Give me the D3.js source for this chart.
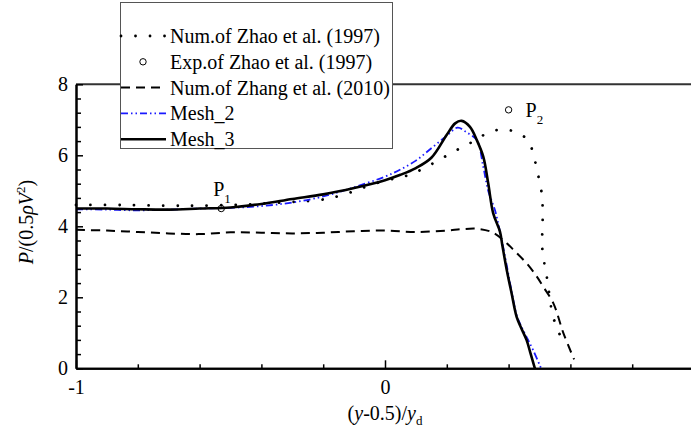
<!DOCTYPE html>
<html>
<head>
<meta charset="utf-8">
<script src="https://cdn.jsdelivr.net/npm/d3@7"></script>
<style>
  body { margin: 0; background: #fff; }
  svg text { font-family: "Liberation Serif", "Times New Roman", serif; fill: #000; }
</style>
</head>
<body>
<svg id="mysvg" width="691" height="438"></svg>
<script>
// Num. of Zhao et al. (1997) - dotted
const zhaoNumX = [-1, -0.85, -0.7, -0.6, -0.5, -0.43, -0.38, -0.29, -0.24, -0.19, -0.15, -0.1, -0.06, -0.01, 0.04, 0.08, 0.12, 0.165, 0.21, 0.25, 0.29, 0.33, 0.378, 0.424, 0.462, 0.48, 0.491, 0.502, 0.509, 0.51, 0.51, 0.508, 0.512, 0.521, 0.528, 0.542, 0.557, 0.578];
const zhaoNumY = [4.6, 4.6, 4.58, 4.58, 4.6, 4.62, 4.65, 4.69, 4.72, 4.77, 4.85, 4.99, 5.12, 5.26, 5.36, 5.45, 5.61, 5.82, 6.04, 6.23, 6.41, 6.62, 6.73, 6.65, 6.43, 6.04, 5.61, 5.19, 4.79, 4.38, 3.97, 3.55, 3.14, 2.72, 2.32, 1.52, 1.13, 0.7];

// Exp. of Zhao et al. (1997) - circles P1, P2
const expX = [-0.53, 0.4];
const expY = [4.5, 7.28];
const expLabels = ["1", "2"];

// Num. of Zhang et al. (2010) - dashed
const zhangX = [-1, -0.9, -0.8, -0.7, -0.6, -0.5, -0.4, -0.3, -0.2, -0.1, 0, 0.1, 0.2, 0.25, 0.3, 0.35, 0.394, 0.42, 0.458, 0.49, 0.512, 0.545, 0.577, 0.612];
const zhangY = [3.9, 3.88, 3.84, 3.8, 3.78, 3.83, 3.82, 3.8, 3.82, 3.86, 3.88, 3.84, 3.88, 3.92, 3.93, 3.82, 3.52, 3.3, 2.96, 2.6, 2.3, 1.83, 1.0, 0.25];

// Mesh_2 - blue dash dot
const mesh2X = [-1, -0.9, -0.8, -0.7, -0.6, -0.5, -0.4, -0.3, -0.2, -0.1, 0, 0.05, 0.1, 0.15, 0.2, 0.235, 0.265, 0.297, 0.318, 0.334, 0.356, 0.372, 0.395, 0.41, 0.426, 0.44, 0.46, 0.48, 0.505];
const mesh2Y = [4.48, 4.47, 4.45, 4.47, 4.5, 4.52, 4.57, 4.67, 4.84, 5.1, 5.4, 5.6, 5.85, 6.2, 6.55, 6.78, 6.64, 6.43, 5.68, 5.0, 4.45, 3.85, 2.85, 2.15, 1.5, 1.2, 0.85, 0.5, 0.0];

// Mesh_3 - solid
const mesh3X = [-1, -0.9, -0.8, -0.7, -0.6, -0.5, -0.4, -0.3, -0.2, -0.1, 0, 0.05, 0.1, 0.15, 0.2, 0.227, 0.248, 0.275, 0.297, 0.318, 0.334, 0.35, 0.372, 0.38, 0.394, 0.41, 0.426, 0.44, 0.458, 0.47, 0.485];
const mesh3Y = [4.5, 4.5, 4.48, 4.47, 4.5, 4.53, 4.63, 4.77, 4.9, 5.08, 5.3, 5.45, 5.64, 5.93, 6.58, 6.9, 6.97, 6.8, 6.43, 5.96, 5.21, 4.37, 3.85, 3.45, 2.77, 2.1, 1.45, 1.15, 0.8, 0.45, 0.0];

// tick values (the x = 1 end lies just past the right edge of the picture)
const xMajor = [-1, 0, 1];
const xMajorLabels = ["-1", "0", ""];
const xMinor = [-0.8, -0.6, -0.4, -0.2, 0.2, 0.4, 0.6, 0.8];
const yMajor = [0, 2, 4, 6, 8];
const yMinor = [0.4, 0.8, 1.2, 1.6, 2.4, 2.8, 3.2, 3.6, 4.4, 4.8, 5.2, 5.6, 6.4, 6.8, 7.2, 7.6];

const legendLabels = ["Num.of Zhao et al. (1997)", "Exp.of Zhao et al. (1997)", "Num.of Zhang et al. (2010)", "Mesh_2", "Mesh_3"];

const zip = (xs, ys) => xs.map((x, i) => ({ x: x, y: ys[i] }));

const svg = d3.select("#mysvg");

const plotLeft = 76, plotRight = 694, plotTop = 84.3, plotBottom = 368.3;

const xScale = d3.scaleLinear().domain([-1, 1]).range([plotLeft, plotRight]);
const yScale = d3.scaleLinear().domain([0, 8]).range([plotBottom, plotTop]);

const line = d3.line()
  .curve(d3.curveCatmullRom.alpha(0.5))
  .x((d) => xScale(d.x))
  .y((d) => yScale(d.y));

// series styles
const series = [
  { data: zip(zhaoNumX, zhaoNumY), stroke: "#000", width: 2.8, dash: "0.01 14.5", cap: "round" },
  { data: zip(zhangX, zhangY), stroke: "#000", width: 2, dash: "9 6", cap: "butt" },
  { data: zip(mesh2X, mesh2Y), stroke: "#1a1aff", width: 1.8, dash: "7 3 1.5 3 1.5 3", cap: "butt" },
  { data: zip(mesh3X, mesh3Y), stroke: "#000", width: 2.6, dash: null, cap: "butt" },
];

// top frame line
svg.append("line")
  .attr("x1", plotLeft).attr("x2", 691)
  .attr("y1", plotTop).attr("y2", plotTop)
  .attr("stroke", "#333").attr("stroke-width", 2);

svg.selectAll(".series")
  .data(series)
  .join("path")
  .attr("class", "series")
  .attr("d", (d) => line(d.data))
  .attr("fill", "none")
  .attr("stroke", (d) => d.stroke)
  .attr("stroke-width", (d) => d.width)
  .attr("stroke-dasharray", (d) => d.dash)
  .attr("stroke-linecap", (d) => d.cap);

// experimental points
const exp = zip(expX, expY);
svg.selectAll(".exp")
  .data(exp)
  .join("circle")
  .attr("class", "exp")
  .attr("cx", (d) => xScale(d.x))
  .attr("cy", (d) => yScale(d.y))
  .attr("r", 3.2)
  .attr("fill", "none")
  .attr("stroke", "#000")
  .attr("stroke-width", 1);

// P1 / P2 labels
const pLab = svg.selectAll(".plab")
  .data(exp)
  .join("text")
  .attr("class", "plab")
  .attr("x", (d, i) => xScale(d.x) + (i === 0 ? -8 : 17))
  .attr("y", (d, i) => yScale(d.y) + (i === 0 ? -13 : 7))
  .style("font-size", "20px");
pLab.append("tspan").text("P");
pLab.append("tspan")
  .attr("dy", 7)
  .style("font-size", "13px")
  .text((d, i) => expLabels[i]);

// axes
const xAxisMajor = d3.axisBottom(xScale).tickValues(xMajor).tickSizeInner(-8).tickSizeOuter(0).tickPadding(12)
  .tickFormat((d, i) => xMajorLabels[i]);
const xAxisMinor = d3.axisBottom(xScale).tickValues(xMinor).tickSizeInner(-4).tickSizeOuter(0).tickFormat("");
const yAxisMajor = d3.axisLeft(yScale).tickValues(yMajor).tickSizeInner(-7).tickSizeOuter(0).tickPadding(8).tickFormat(d3.format("d"));
const yAxisMinor = d3.axisLeft(yScale).tickValues(yMinor).tickSizeInner(-5).tickSizeOuter(0).tickFormat("");

const styleAxis = (g) => {
  g.select(".domain").attr("stroke", "#000").attr("stroke-width", 2);
  g.selectAll(".tick line").attr("stroke", "#000").attr("stroke-width", 1.5);
  g.selectAll(".tick text").style("font-size", "20px").style("font-family", "Liberation Serif, serif").attr("fill", "#000");
};

svg.append("g").attr("transform", `translate(0,${plotBottom})`).call(xAxisMinor).call(styleAxis);
svg.append("g").attr("transform", `translate(0,${plotBottom})`).call(xAxisMajor).call(styleAxis);
svg.append("g").attr("transform", `translate(${plotLeft},0)`).call(yAxisMinor).call(styleAxis);
svg.append("g").attr("transform", `translate(${plotLeft},0)`).call(yAxisMajor).call(styleAxis);

// axis titles
const xt = svg.append("text")
  .attr("x", 385).attr("y", 420)
  .attr("text-anchor", "middle")
  .style("font-size", "20px");
xt.append("tspan").text("(");
xt.append("tspan").style("font-style", "italic").text("y");
xt.append("tspan").text("-0.5)/");
xt.append("tspan").style("font-style", "italic").text("y");
xt.append("tspan").attr("dy", 5).style("font-size", "13px").text("d");

const yt = svg.append("text")
  .attr("transform", "translate(33,222) rotate(-90)")
  .attr("text-anchor", "middle")
  .style("font-size", "20px");
yt.append("tspan").style("font-style", "italic").text("P");
yt.append("tspan").text("/(0.5");
yt.append("tspan").style("font-style", "italic").text("ρV");
yt.append("tspan").attr("dy", -8).style("font-size", "13px").text("2");
yt.append("tspan").attr("dy", 8).text(")");

// legend
const legend = svg.append("g");
legend.append("rect")
  .attr("x", 120.5).attr("y", 2.5)
  .attr("width", 272).attr("height", 146)
  .attr("fill", "#fff")
  .attr("stroke", "#555")
  .attr("stroke-width", 1);

const rowY = (i) => 36 + i * 25.8;

const items = legend.selectAll(".legend")
  .data(legendLabels)
  .join("g")
  .attr("class", "legend")
  .attr("transform", (d, i) => `translate(0,${rowY(i)})`);

items.append("text")
  .attr("x", 170)
  .attr("y", 7)
  .style("font-size", "20px")
  .text((d) => d);

const legendLines = [series[0], null, series[1], series[2], series[3]];
items.filter((d, i) => legendLines[i] !== null)
  .append("line")
  .attr("x1", 121)
  .attr("x2", 166)
  .attr("y1", 0).attr("y2", 0)
  .each(function (d) {
    const s = legendLines[legendLabels.indexOf(d)];
    d3.select(this)
      .attr("stroke", s.stroke)
      .attr("stroke-width", s.width)
      .attr("stroke-dasharray", s.dash)
      .attr("stroke-linecap", s.cap);
  });

items.filter((d, i) => i === 1)
  .append("circle")
  .attr("cx", 143).attr("cy", 0).attr("r", 3.2)
  .attr("fill", "none").attr("stroke", "#000");
</script>
</body>
</html>
